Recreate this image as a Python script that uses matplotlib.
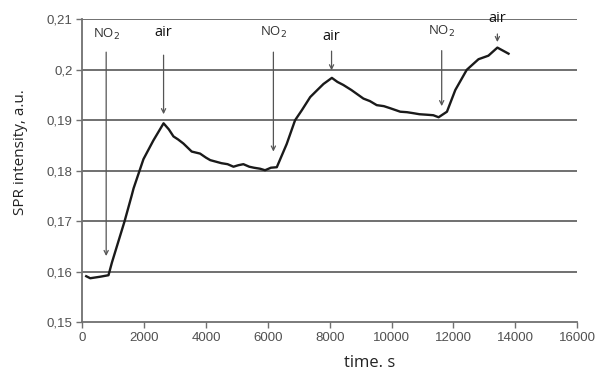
import matplotlib.pyplot as plt

# data
time_s = [130, 260, 580, 850, 960, 1370, 1600, 1660, 1980, 2300, 2630, 2800, 2950, 3100,
          3270, 3540, 3810, 4000, 4140, 4500, 4700, 4890, 5050, 5210, 5400, 5550,
          5750, 5910, 6100, 6290, 6610, 6880, 7100, 7370, 7600, 7800, 8070, 8250,
          8440, 8700, 9090, 9300, 9520, 9750, 9950, 10280, 10500, 10710, 10900,
          11140, 11350, 11520, 11790, 12060, 12430, 12810, 13130, 13420, 13780]
intensity = [0.1591, 0.1587, 0.1590, 0.1593, 0.1618, 0.1700, 0.1751, 0.1765, 0.1823,
             0.1860, 0.1894, 0.1882, 0.1868, 0.1862, 0.1854, 0.1838, 0.1834, 0.1826,
             0.1821, 0.1815, 0.1813, 0.1808, 0.1811, 0.1813, 0.1808, 0.1806, 0.1804,
             0.1801, 0.1806, 0.1807, 0.1853, 0.1900, 0.1920, 0.1946, 0.1960, 0.1972,
             0.1984, 0.1976, 0.1970, 0.1960, 0.1943, 0.1938, 0.1930, 0.1928, 0.1924,
             0.1917, 0.1916, 0.1914, 0.1912, 0.1911, 0.1910, 0.1906, 0.1917, 0.1960,
             0.2000, 0.2021, 0.2028, 0.2044, 0.2032]

# annotations: label, x, text y, arrow start y, arrow end y
marks = [("NO$_2$", 775, 0.2055, 0.2035, 0.1631),
         ("air", 2630, 0.2059, 0.2029, 0.1912),
         ("NO$_2$", 6180, 0.2059, 0.2035, 0.1838),
         ("air", 8060, 0.2051, 0.2037, 0.1999),
         ("NO$_2$", 11620, 0.2061, 0.2038, 0.1928),
         ("air", 13420, 0.2086, 0.2071, 0.2055)]

x_ticks = [0, 2000, 4000, 6000, 8000, 10000, 12000, 14000, 16000]
y_ticks = [0.15, 0.16, 0.17, 0.18, 0.19, 0.20, 0.21]
y_labels = ["0,15", "0,16", "0,17", "0,18", "0,19", "0,2", "0,21"]

fig = plt.figure(figsize=(6, 3.72), dpi=100)
ax = fig.add_axes([0.137, 0.134, 0.825, 0.814])

grey = '#707070'
for yv in y_ticks[1:]:
    ax.axhline(yv, color=grey, lw=1.4, zorder=1)

ax.plot(time_s, intensity, color='#1a1a1a', lw=1.7, zorder=3)

for lab, xv, ty, y0, y1 in marks:
    ax.text(xv, ty, lab, ha='center', va='bottom',
            fontsize=10.5 if lab == 'air' else 9.5,
            family='Open Sans', color='#111111' if lab == 'air' else '#333333')
    ax.annotate('', xy=(xv, y1), xytext=(xv, y0),
                arrowprops=dict(arrowstyle='->,head_length=0.3,head_width=0.15',
                                color='#555555', lw=0.9, shrinkA=0, shrinkB=0),
                zorder=2)

ax.set_xlim(0, 16000)
ax.set_ylim(0.15, 0.21)
ax.set_xticks(x_ticks)
ax.set_xticklabels([str(t) for t in x_ticks])
ax.set_yticks(y_ticks)
ax.set_yticklabels(y_labels)
ax.spines[['right', 'top']].set_visible(False)
ax.spines[['left', 'bottom']].set_color(grey)
ax.spines[['left', 'bottom']].set_linewidth(1.3)
ax.tick_params(colors=grey, labelcolor='#505050', length=4, width=1,
               labelsize=9.5, pad=3)
for t in ax.get_xticklabels() + ax.get_yticklabels():
    t.set_family('Liberation Sans')

ax.set_xlabel("time. s", fontsize=12, family='Open Sans', color='#222222')
ax.xaxis.set_label_coords(0.58, -0.11)
ax.set_ylabel("SPR intensity, a.u.", fontsize=11, family='Open Sans', color='#222222')
ax.yaxis.set_label_coords(-0.11, 0.56)

fig.savefig('out.png', dpi=100)
